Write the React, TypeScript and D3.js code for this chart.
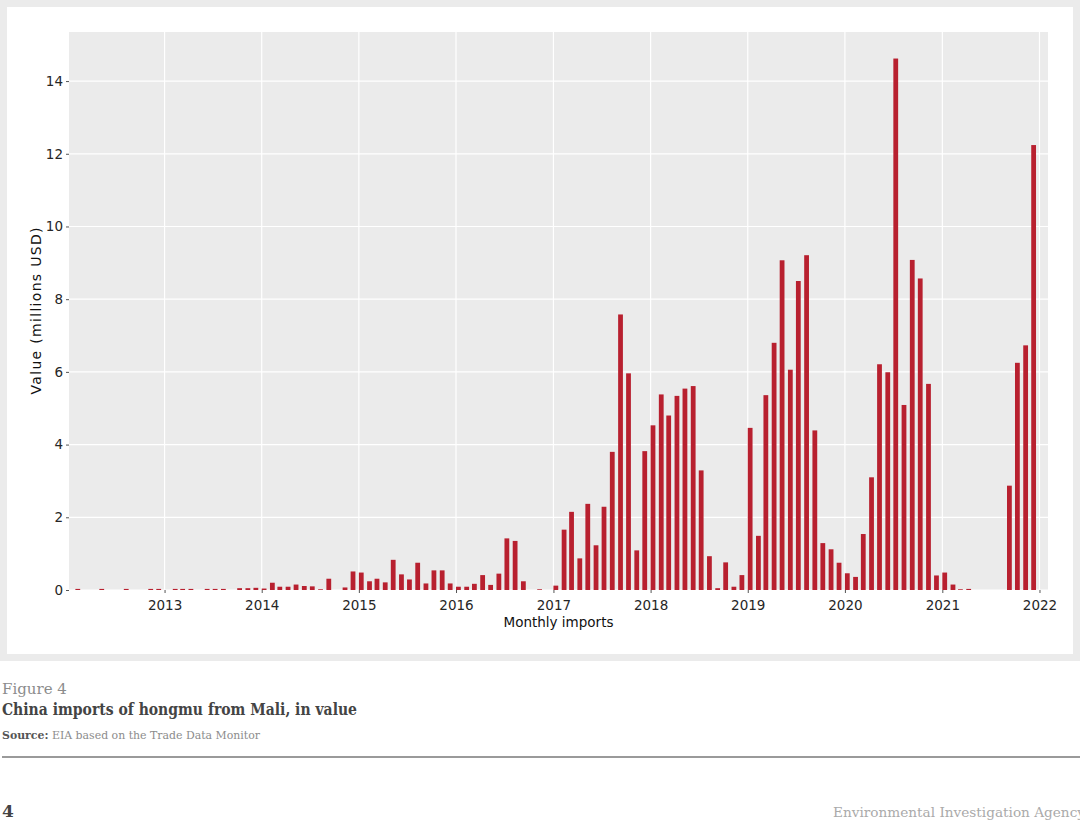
import { useEffect, useRef } from "react";
import * as d3 from "d3";

// Monthly import values (millions USD), Jan..Dec of each year
const years = [2012, 2013, 2014, 2015, 2016, 2017, 2018, 2019, 2020, 2021];
const values2012 = [0, 0.03, 0, 0, 0.03, 0, 0, 0.03, 0, 0, 0.03, 0.03];
const values2013 = [0, 0.03, 0.03, 0.03, 0, 0.03, 0.03, 0.03, 0, 0.05, 0.05, 0.06];
const values2014 = [0.04, 0.2, 0.09, 0.09, 0.15, 0.11, 0.1, 0.02, 0.31, 0, 0.07, 0.51];
const values2015 = [0.48, 0.24, 0.31, 0.21, 0.83, 0.43, 0.29, 0.75, 0.18, 0.54, 0.54, 0.18];
const values2016 = [0.09, 0.09, 0.17, 0.41, 0.14, 0.45, 1.42, 1.35, 0.24, 0, 0.02, 0];
const values2017 = [0.12, 1.66, 2.15, 0.87, 2.37, 1.23, 2.29, 3.8, 7.58, 5.96, 1.09, 3.82];
const values2018 = [4.53, 5.38, 4.8, 5.34, 5.54, 5.61, 3.29, 0.93, 0.05, 0.76, 0.09, 0.41];
const values2019 = [4.46, 1.49, 5.36, 6.8, 9.07, 6.06, 8.5, 9.21, 4.39, 1.29, 1.12, 0.75];
const values2020 = [0.46, 0.36, 1.54, 3.1, 6.21, 5.99, 14.62, 5.09, 9.08, 8.57, 5.67, 0.4];
const values2021 = [0.48, 0.15, 0.02, 0.03, 0, 0, 0, 0, 2.87, 6.25, 6.73, 12.24];
const yearValues = [
  values2012, values2013, values2014, values2015, values2016,
  values2017, values2018, values2019, values2020, values2021,
];

const yTicks = [0, 2, 4, 6, 8, 10, 12, 14];
const xTickYears = [2013, 2014, 2015, 2016, 2017, 2018, 2019, 2020, 2021, 2022];

const W = 1080;
const H = 835;
const panel = { left: 69, right: 1048, top: 32, bottom: 590 };
const barColor = "#b8202f";
const sans = "'DejaVu Sans', sans-serif";
const serif = "'DejaVu Serif', serif";

export default function App() {
  const svgRef = useRef<SVGSVGElement>(null);

  useEffect(() => {
    if (!svgRef.current) return;
    const svg = d3.select(svgRef.current);
    svg.selectAll("*").remove();

    const data = years.flatMap((yr, i) =>
      yearValues[i].map((v, m) => ({ date: new Date(yr, m, 1), value: v }))
    );

    const x = d3
      .scaleTime()
      .domain([new Date(2012, 0, 8), new Date(2022, 1, 2)])
      .range([panel.left, panel.right]);

    const y = d3
      .scaleLinear()
      .domain([0, 15.35])
      .range([panel.bottom, panel.top]);

    // outer frame
    svg
      .append("rect")
      .attr("x", 3.5)
      .attr("y", 3.5)
      .attr("width", 1073)
      .attr("height", 654)
      .attr("fill", "#fff")
      .attr("stroke", "#ebebeb")
      .attr("stroke-width", 7);

    // panel background
    svg
      .append("rect")
      .attr("x", panel.left)
      .attr("y", panel.top)
      .attr("width", panel.right - panel.left)
      .attr("height", panel.bottom - panel.top)
      .attr("fill", "#ebebeb");

    // gridlines
    svg
      .append("g")
      .selectAll("line")
      .data(yTicks)
      .join("line")
      .attr("x1", panel.left)
      .attr("x2", panel.right)
      .attr("y1", (d) => y(d))
      .attr("y2", (d) => y(d))
      .attr("stroke", "#fff")
      .attr("stroke-width", 1.2);

    svg
      .append("g")
      .selectAll("line")
      .data(xTickYears)
      .join("line")
      .attr("x1", (d) => x(new Date(d, 0, 1)))
      .attr("x2", (d) => x(new Date(d, 0, 1)))
      .attr("y1", panel.top)
      .attr("y2", panel.bottom)
      .attr("stroke", "#fff")
      .attr("stroke-width", 1.2);

    // bars
    svg
      .append("g")
      .selectAll("rect")
      .data(data.filter((d) => d.value > 0))
      .join("rect")
      .attr("x", (d) => x(d.date))
      .attr("width", (d) => x(d3.timeDay.offset(d.date, 18)) - x(d.date))
      .attr("y", (d) => y(d.value))
      .attr("height", (d) => y(0) - y(d.value))
      .attr("fill", barColor);

    // axes
    const yAxis = svg
      .append("g")
      .attr("transform", `translate(${panel.left},0)`)
      .call(d3.axisLeft(y).tickValues(yTicks).tickSize(3).tickPadding(3).tickSizeOuter(0));
    yAxis.select(".domain").remove();
    yAxis.selectAll("line").attr("stroke", "#555");
    yAxis
      .selectAll("text")
      .attr("font-family", sans)
      .attr("font-size", 13.5)
      .attr("fill", "#262626");

    const xAxis = svg
      .append("g")
      .attr("transform", `translate(0,${panel.bottom})`)
      .call(
        d3
          .axisBottom(x)
          .tickValues(xTickYears.map((d) => new Date(d, 0, 1)))
          .tickFormat((d) => d3.timeFormat("%Y")(d as Date))
          .tickSize(3)
          .tickPadding(7)
          .tickSizeOuter(0)
      );
    xAxis.select(".domain").remove();
    xAxis.selectAll("line").attr("stroke", "#555");
    xAxis
      .selectAll("text")
      .attr("font-family", sans)
      .attr("font-size", 13.5)
      .attr("fill", "#262626");

    // axis titles
    svg
      .append("text")
      .attr("x", (panel.left + panel.right) / 2)
      .attr("y", 627)
      .attr("text-anchor", "middle")
      .attr("font-family", sans)
      .attr("font-size", 13.5)
      .attr("fill", "#111")
      .text("Monthly imports");

    svg
      .append("text")
      .attr("transform", `translate(41,${(panel.top + panel.bottom) / 2}) rotate(-90)`)
      .attr("text-anchor", "middle")
      .attr("font-family", sans)
      .attr("font-size", 14)
      .attr("textLength", 167)
      .attr("lengthAdjust", "spacing")
      .attr("fill", "#111")
      .text("Value (millions USD)");

    // caption below the frame
    svg
      .append("text")
      .attr("x", 2)
      .attr("y", 694)
      .attr("font-family", serif)
      .attr("font-size", 15)
      .attr("fill", "#8c8c8c")
      .text("Figure 4");

    svg
      .append("text")
      .attr("x", 2)
      .attr("y", 715)
      .attr("font-family", serif)
      .attr("font-size", 16)
      .attr("font-weight", "bold")
      .attr("textLength", 355)
      .attr("lengthAdjust", "spacingAndGlyphs")
      .attr("fill", "#444")
      .text("China imports of hongmu from Mali, in value");

    const src = svg
      .append("text")
      .attr("x", 2)
      .attr("y", 739)
      .attr("font-family", serif)
      .attr("font-size", 11.5)
      .attr("textLength", 258)
      .attr("lengthAdjust", "spacingAndGlyphs");
    src.append("tspan").attr("font-weight", "bold").attr("fill", "#555").text("Source:");
    src.append("tspan").attr("fill", "#8c8c8c").text(" EIA based on the Trade Data Monitor");

    svg
      .append("line")
      .attr("x1", 2)
      .attr("x2", W)
      .attr("y1", 757)
      .attr("y2", 757)
      .attr("stroke", "#9a9a9a")
      .attr("stroke-width", 2);

    svg
      .append("text")
      .attr("x", 2)
      .attr("y", 817)
      .attr("font-family", serif)
      .attr("font-size", 17)
      .attr("font-weight", "bold")
      .attr("fill", "#444")
      .text("4");

    svg
      .append("text")
      .attr("x", 833)
      .attr("y", 817)
      .attr("font-family", serif)
      .attr("font-size", 13)
      .attr("textLength", 252)
      .attr("lengthAdjust", "spacingAndGlyphs")
      .attr("fill", "#aaa")
      .text("Environmental Investigation Agency");
  }, []);

  return (
    <svg
      ref={svgRef}
      width={W}
      height={H}
      style={{ position: "absolute", left: 0, top: 0, background: "#fff" }}
    />
  );
}
